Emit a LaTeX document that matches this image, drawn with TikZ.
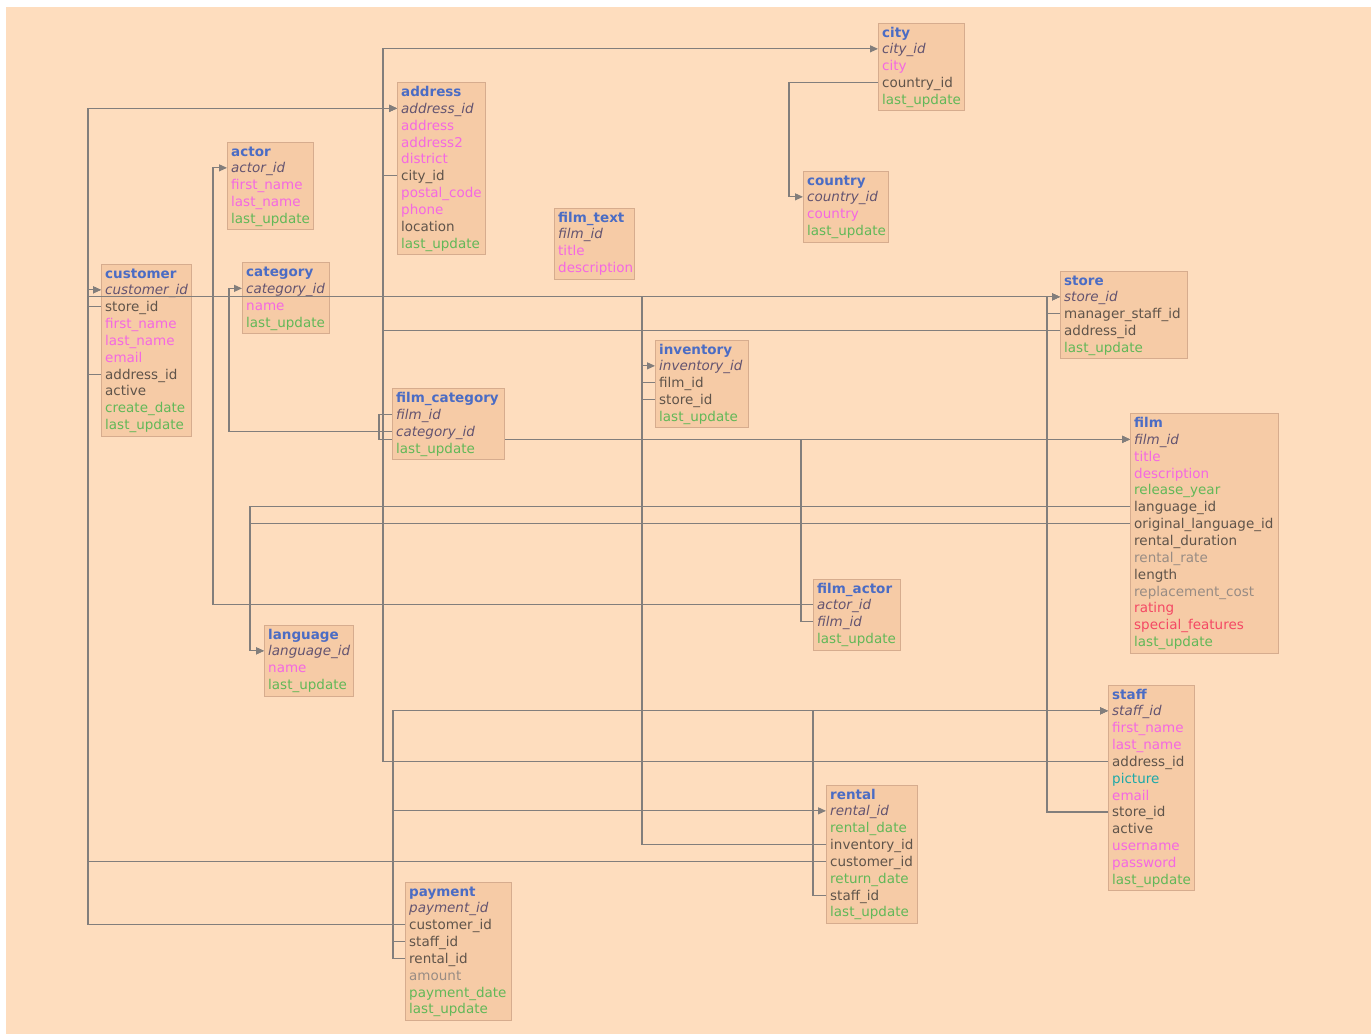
\documentclass[tikz,border=0pt]{standalone}
\usepackage{fontspec}
\setmainfont{DejaVu Sans}
\usetikzlibrary{arrows.meta,calc}
\pgfdeclarelayer{bglayer}
\pgfdeclarelayer{linelayer}
\pgfsetlayers{bglayer,linelayer,main}

\definecolor{bgc}{RGB}{254,221,190}
\definecolor{boxf}{RGB}{246,203,166}
\definecolor{boxd}{RGB}{214,172,142}
\definecolor{ttl}{RGB}{75,108,196}
\definecolor{pkc}{RGB}{100,84,112}
\definecolor{regc}{RGB}{96,84,74}
\definecolor{pinkc}{RGB}{244,104,226}
\definecolor{grnc}{RGB}{98,184,88}
\definecolor{lgrc}{RGB}{152,140,132}
\definecolor{redc}{RGB}{244,72,100}
\definecolor{tealc}{RGB}{28,168,168}
\definecolor{linec}{RGB}{130,126,124}

\newcommand\rfN{\fontsize{13.5}{16}\selectfont}
\newcommand\rfB{\fontsize{13.5}{16}\selectfont\bfseries}
\newcommand\rfI{\fontsize{13.5}{16}\selectfont\itshape}

\tikzset{
  tbox/.style={draw=boxd, fill=boxf, line width=1pt, rectangle, inner sep=0pt, anchor=north west},
  rowt/.style={anchor=west, inner xsep=4pt, inner ysep=0pt, text height=13pt, text depth=3pt},
  fk/.style={draw=linec, line width=1.1pt, -{Triangle[length=8pt,width=7pt]}},
}

% name, x, title y, width, number of rows (incl. title), rows
\newcommand\dbt[6]{%
  \node[tbox, minimum width=#4, minimum height={(#5-1)*16.85+20.5}] (#1) at (#2,#3-9.5) {};
  \node[rowt, text=ttl, font=\rfB] (#1-hdr) at (#2,#3) {\detokenize{#1}};
  \foreach \cl/\fs/\id [count=\i from 1] in {#6} {
    \node[rowt, text=\cl, font=\fs] (#1-\id) at (#2,#3+\i*16.85) {\expandafter\detokenize\expandafter{\id}};
  }%
}

\begin{document}
\begin{tikzpicture}[x=1pt,y=-1pt]
\useasboundingbox (0,0) rectangle (1371,1034);
\begin{pgfonlayer}{bglayer}
  \fill[white] (0,0) rectangle (1371,1034);
  \fill[bgc] (6,7) rectangle (1371,1034);
\end{pgfonlayer}

\dbt{city}{878}{32}{86}{5}{pkc/\rfI/city_id,pinkc/\rfN/city,regc/\rfN/country_id,grnc/\rfN/last_update}
\dbt{address}{397}{91.5}{88}{10}{pkc/\rfI/address_id,pinkc/\rfN/address,pinkc/\rfN/address2,pinkc/\rfN/district,regc/\rfN/city_id,pinkc/\rfN/postal_code,pinkc/\rfN/phone,regc/\rfN/location,grnc/\rfN/last_update}
\dbt{actor}{227}{151}{86}{5}{pkc/\rfI/actor_id,pinkc/\rfN/first_name,pinkc/\rfN/last_name,grnc/\rfN/last_update}
\dbt{film_text}{554}{217}{80}{4}{pkc/\rfI/film_id,pinkc/\rfN/title,pinkc/\rfN/description}
\dbt{country}{803}{180}{85}{4}{pkc/\rfI/country_id,pinkc/\rfN/country,grnc/\rfN/last_update}
\dbt{customer}{101}{273}{90}{10}{pkc/\rfI/customer_id,regc/\rfN/store_id,pinkc/\rfN/first_name,pinkc/\rfN/last_name,pinkc/\rfN/email,regc/\rfN/address_id,regc/\rfN/active,grnc/\rfN/create_date,grnc/\rfN/last_update}
\dbt{category}{242}{271.5}{87}{4}{pkc/\rfI/category_id,pinkc/\rfN/name,grnc/\rfN/last_update}
\dbt{store}{1060}{280}{127}{5}{pkc/\rfI/store_id,regc/\rfN/manager_staff_id,regc/\rfN/address_id,grnc/\rfN/last_update}
\dbt{inventory}{655}{349}{93}{5}{pkc/\rfI/inventory_id,regc/\rfN/film_id,regc/\rfN/store_id,grnc/\rfN/last_update}
\dbt{film_category}{392}{397.5}{112}{4}{pkc/\rfI/film_id,pkc/\rfI/category_id,grnc/\rfN/last_update}
\dbt{film}{1130}{422.5}{148}{14}{pkc/\rfI/film_id,pinkc/\rfN/title,pinkc/\rfN/description,grnc/\rfN/release_year,regc/\rfN/language_id,regc/\rfN/original_language_id,regc/\rfN/rental_duration,lgrc/\rfN/rental_rate,regc/\rfN/length,lgrc/\rfN/replacement_cost,redc/\rfN/rating,redc/\rfN/special_features,grnc/\rfN/last_update}
\dbt{film_actor}{813}{588}{87}{4}{pkc/\rfI/actor_id,pkc/\rfI/film_id,grnc/\rfN/last_update}
\dbt{language}{264}{634}{89}{4}{pkc/\rfI/language_id,pinkc/\rfN/name,grnc/\rfN/last_update}
\dbt{staff}{1108}{694}{86}{12}{pkc/\rfI/staff_id,pinkc/\rfN/first_name,pinkc/\rfN/last_name,regc/\rfN/address_id,tealc/\rfN/picture,pinkc/\rfN/email,regc/\rfN/store_id,regc/\rfN/active,pinkc/\rfN/username,pinkc/\rfN/password,grnc/\rfN/last_update}
\dbt{rental}{826}{794}{91}{8}{pkc/\rfI/rental_id,grnc/\rfN/rental_date,regc/\rfN/inventory_id,regc/\rfN/customer_id,grnc/\rfN/return_date,regc/\rfN/staff_id,grnc/\rfN/last_update}
\dbt{payment}{405}{891}{106}{8}{pkc/\rfI/payment_id,regc/\rfN/customer_id,regc/\rfN/staff_id,regc/\rfN/rental_id,lgrc/\rfN/amount,grnc/\rfN/payment_date,grnc/\rfN/last_update}

\begin{pgfonlayer}{linelayer}
  \draw[fk] (address-city_id.west) -- ++(-14,0) |- (city-city_id.west);
  \draw[fk] (city-country_id.west) -- ++(-89,0) |- (country-country_id.west);
  \draw[fk] (customer-address_id.west) -- ++(-13,0) |- (address-address_id.west);
  \draw[fk] (inventory-store_id.west) -- ++(-13,0) |- (store-store_id.west);
  \draw[fk] (inventory-film_id.west) -- ++(-13,0) |- (film-film_id.west);
  \draw[fk] (rental-inventory_id.west) -| ($(inventory-inventory_id.west)+(-13,0)$) -- (inventory-inventory_id.west);
  \draw[fk] (store-manager_staff_id.west) -- ++(-13,0) |- (staff-staff_id.west);
  \draw[fk] (store-address_id.west) -| ($(address-address_id.west)+(-14,0)$) -- (address-address_id.west);
  \draw[fk] (staff-address_id.west) -| ($(address-address_id.west)+(-14,0)$) -- (address-address_id.west);
  \draw[fk] (staff-store_id.west) -- ++(-61,0) |- (store-store_id.west);
  \draw[fk] (film-language_id.west) -| ($(language-language_id.west)+(-14,0)$) -- (language-language_id.west);
  \draw[fk] (film-original_language_id.west) -| ($(language-language_id.west)+(-14,0)$) -- (language-language_id.west);
  \draw[fk] (film_actor-actor_id.west) -| ($(actor-actor_id.west)+(-14,0)$) -- (actor-actor_id.west);
  \draw[fk] (film_actor-film_id.west) -- ++(-12,0) |- (film-film_id.west);
  \draw[fk] (film_category-film_id.west) -- ++(-13,0) |- (film-film_id.west);
  \draw[fk] (film_category-category_id.west) -| ($(category-category_id.west)+(-13,0)$) -- (category-category_id.west);
  \draw[fk] (rental-customer_id.west) -| ($(customer-customer_id.west)+(-13,0)$) -- (customer-customer_id.west);
  \draw[fk] (payment-customer_id.west) -| ($(customer-customer_id.west)+(-13,0)$) -- (customer-customer_id.west);
  \draw[fk] (rental-staff_id.west) -- ++(-13,0) |- (staff-staff_id.west);
  \draw[fk] (payment-staff_id.west) -- ++(-12,0) |- (staff-staff_id.west);
  \draw[fk] (payment-rental_id.west) -- ++(-12,0) |- (rental-rental_id.west);
\end{pgfonlayer}
\draw[fk] (customer-store_id.west) -- ++(-13,0) |- (store-store_id.west);
\end{tikzpicture}
\end{document}
